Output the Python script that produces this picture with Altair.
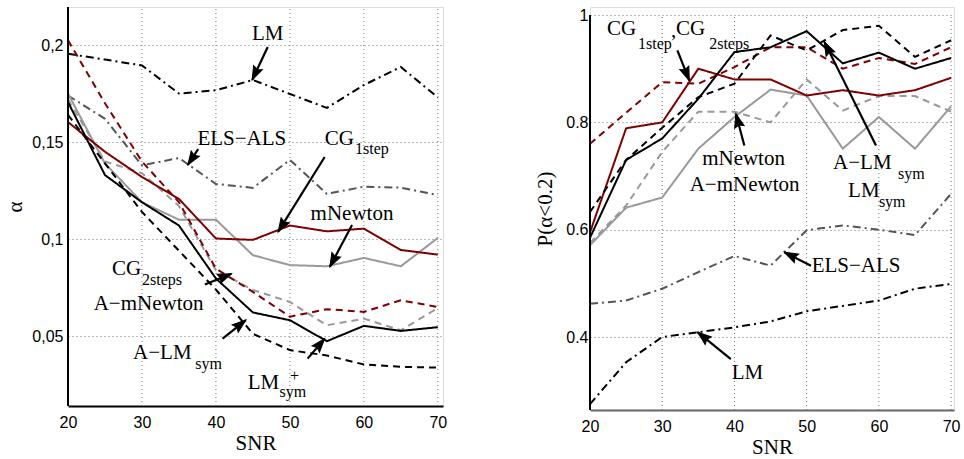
import math
import altair as alt
import pandas as pd

snr = [20, 25, 30, 35, 40, 45, 50, 55, 60, 65, 70]
series_names = ["LM", "ELS-ALS", "mNewton", "A-mNewton", "CG2steps", "CG1step", "A-LMsym", "LMsym"]
series_colors = ["#000000", "#555555", "#999999", "#999999", "#7f0000", "#7f0000", "#000000", "#000000"]
series_dashes = [[8, 4, 2, 4], [8, 4, 2, 4], [1, 0], [7, 5], [7, 5], [1, 0], [7, 5], [1, 0]]

# Left panel: alpha vs SNR
a_LM = [0.1955, 0.1925, 0.1895, 0.1750, 0.1767, 0.1820, 0.1748, 0.1676, 0.1794, 0.1887, 0.1730]
a_ELS = [0.174, 0.162, 0.138, 0.1418, 0.1284, 0.1264, 0.1408, 0.1233, 0.127, 0.1265, 0.1227]
a_mN = [0.175, 0.139, 0.119, 0.110, 0.110, 0.0917, 0.0866, 0.086, 0.0903, 0.086, 0.1006]
a_AmN = [0.172, 0.140, 0.134, 0.117, 0.084, 0.0738, 0.0676, 0.0556, 0.059, 0.053, 0.0645]
a_CG2 = [0.2025, 0.170, 0.140, 0.119, 0.0848, 0.0728, 0.060, 0.0639, 0.0625, 0.0685, 0.065]
a_CG1 = [0.1603, 0.145, 0.132, 0.1207, 0.1003, 0.0996, 0.107, 0.104, 0.1054, 0.0944, 0.092]
a_ALM = [0.164, 0.139, 0.114, 0.094, 0.074, 0.0512, 0.0428, 0.040, 0.0354, 0.0342, 0.0338]
a_LMs = [0.1706, 0.133, 0.119, 0.107, 0.0797, 0.0622, 0.0582, 0.0474, 0.0553, 0.0527, 0.0546]

# Right panel: P(alpha<0.2) vs SNR
p_LM = [0.275, 0.353, 0.400, 0.409, 0.418, 0.429, 0.448, 0.458, 0.468, 0.490, 0.499]
p_ELS = [0.462, 0.468, 0.490, 0.521, 0.551, 0.533, 0.599, 0.608, 0.600, 0.590, 0.667]
p_mN = [0.571, 0.641, 0.660, 0.751, 0.810, 0.861, 0.850, 0.751, 0.810, 0.751, 0.830]
p_AmN = [0.575, 0.645, 0.745, 0.820, 0.820, 0.800, 0.880, 0.822, 0.849, 0.849, 0.820]
p_CG2 = [0.760, 0.818, 0.875, 0.872, 0.903, 0.940, 0.940, 0.900, 0.920, 0.909, 0.940]
p_CG1 = [0.595, 0.789, 0.800, 0.900, 0.880, 0.880, 0.850, 0.860, 0.850, 0.860, 0.883]
p_ALM = [0.633, 0.730, 0.790, 0.847, 0.872, 0.962, 0.934, 0.972, 0.980, 0.922, 0.953]
p_LMs = [0.585, 0.730, 0.770, 0.844, 0.931, 0.940, 0.970, 0.910, 0.930, 0.900, 0.920]

# Annotations (data coordinates)
L_main_center = [("LM", 47.0, 0.2026), ("ELS−ALS", 43.5, 0.1485), ("mNewton", 58.4, 0.1099), ("A−mNewton", 30.9, 0.0635)]
L_main_left = [("CG", 54.7, 0.1485), ("CG", 25.95, 0.0815), ("A−LM", 28.8, 0.0384), ("LM", 44.3, 0.023)]
L_sub_left = [("1step", 58.8, 0.1439), ("2steps", 30.0, 0.0764), ("sym", 37.2, 0.0333), ("sym", 48.6, 0.0187), ("+", 50.0, 0.0268)]
L_arrows = [(47.0, 0.199, 44.9, 0.182), (37.6, 0.1464, 36.2, 0.1382), (54.7, 0.1423, 48.4, 0.1037),
            (58.4, 0.1073, 55.4, 0.0857), (38.5, 0.0766, 42.1, 0.0822), (40.9, 0.0487, 44.05, 0.0583),
            (52.4, 0.0384, 54.7, 0.0487)]

R_main_center = [("mNewton", 41.26, 0.72), ("A−mNewton", 41.4, 0.673), ("ELS−ALS", 56.84, 0.521), ("LM", 41.8, 0.322)]
R_main_left = [("CG", 22.35, 0.962), (",", 31.2, 0.959), ("CG", 31.9, 0.962), ("A−LM", 53.66, 0.7136), ("LM", 55.73, 0.661)]
R_sub_left = [("1step", 26.65, 0.937), ("2steps", 36.5, 0.937), ("sym", 62.66, 0.695), ("sym", 60.0, 0.642)]
R_arrows = [(32.1, 0.934, 33.75, 0.878), (41.37, 0.757, 40.2, 0.816), (59.6, 0.757, 52.45, 0.95),
            (50.6, 0.533, 46.9, 0.558), (39.5, 0.359, 34.9, 0.409)]

x_ticks = [20, 30, 40, 50, 60, 70]

HEAD = "M0,0 L-0.5,1.4 L0,1.2 L0.5,1.4 Z"
SERIF = "Liberation Serif, Times New Roman, serif"
SANS = "Liberation Sans, Arial, Helvetica, sans-serif"
GRID = "#777777"


def panel(values, xdom, ydom, axis_top, yticks, label_expr, ytitle, w, h, main_c, main_l, sub_l, arrows,
          ytitle_pad, ylabel_pad, xdomain_color):
    rows = []
    for name, vals in zip(series_names, values):
        for x, v in zip(snr, vals):
            rows.append({"snr": x, "v": v, "series": name})
    df = pd.DataFrame(rows)

    xscale = alt.Scale(domain=xdom, nice=False, zero=False)
    yscale = alt.Scale(domain=ydom, nice=False, zero=False)
    xaxis = alt.Axis(values=x_ticks, title="SNR", grid=False, ticks=False,
                     domainColor=xdomain_color, domainWidth=2,
                     labelFont=SANS, labelFontSize=16, labelColor="#000", labelPadding=8,
                     labelFlush=False, labelOverlap=False,
                     titleFont=SERIF, titleFontSize=21, titleFontWeight="normal", titleColor="#000",
                     titlePadding=2)
    yaxis = alt.Axis(values=yticks, labelExpr=label_expr, title=ytitle, grid=True, gridDash=[1, 3],
                     gridColor=GRID, gridWidth=1, ticks=False, domain=False,
                     labelFont=SANS, labelFontSize=16, labelColor="#000", labelPadding=ylabel_pad,
                     labelFlush=False, labelOverlap=False,
                     titleFont=SERIF, titleFontSize=21, titleFontWeight="normal", titleColor="#000",
                     titlePadding=ytitle_pad)

    gdf = pd.DataFrame({"gx": x_ticks[1:], "gy": [ydom[0]] * (len(x_ticks) - 1),
                        "gy2": [axis_top] * (len(x_ticks) - 1)})
    vgrid = alt.Chart(gdf).mark_rule(color=GRID, strokeWidth=1, strokeDash=[1, 3]).encode(
        x=alt.X("gx:Q", scale=xscale, axis=xaxis), y=alt.Y("gy:Q", scale=yscale, axis=yaxis), y2="gy2:Q")
    adf0 = pd.DataFrame({"ax": [xdom[0]], "ay": [ydom[0]], "ay2": [axis_top]})
    yline = alt.Chart(adf0).mark_rule(color="#000000", strokeWidth=2).encode(
        x=alt.X("ax:Q", scale=xscale), y=alt.Y("ay:Q", scale=yscale), y2="ay2:Q")

    lines = alt.Chart(df).mark_line(strokeWidth=2, clip=True).encode(
        x=alt.X("snr:Q", scale=xscale),
        y=alt.Y("v:Q", scale=yscale),
        color=alt.Color("series:N", scale=alt.Scale(domain=series_names, range=series_colors), legend=None),
        strokeDash=alt.StrokeDash("series:N", scale=alt.Scale(domain=series_names, range=series_dashes), legend=None),
        order=alt.Order("snr:Q"),
    )

    px_per_x = w / (xdom[1] - xdom[0])
    px_per_y = h / (ydom[1] - ydom[0])
    arows = []
    for x1, y1, x2, y2 in arrows:
        sx = (x2 - x1) * px_per_x
        sy = -(y2 - y1) * px_per_y
        ang = (math.degrees(math.atan2(sx, -sy)) + 360) % 360
        arows.append({"x1": x1, "y1": y1, "x2": x2, "y2": y2, "ang": ang})
    adf = pd.DataFrame(arows)
    shafts = alt.Chart(adf).mark_rule(color="black", strokeWidth=2.2).encode(
        x=alt.X("x1:Q", scale=xscale), y=alt.Y("y1:Q", scale=yscale),
        x2="x2:Q", y2="y2:Q")
    heads = alt.Chart(adf).mark_point(shape=HEAD, filled=True, fill="black", stroke="black", size=380,
                                      opacity=1, strokeWidth=1).encode(
        x=alt.X("x2:Q", scale=xscale), y=alt.Y("y2:Q", scale=yscale),
        angle=alt.Angle("ang:Q", scale=None))

    def tlayer(items, size, align):
        tdf = pd.DataFrame([{"t": t, "x": x, "y": y} for t, x, y in items])
        return alt.Chart(tdf).mark_text(font=SERIF, fontSize=size, align=align, baseline="alphabetic",
                                        color="black").encode(
            x=alt.X("x:Q", scale=xscale), y=alt.Y("y:Q", scale=yscale), text="t:N")

    return alt.layer(vgrid, lines, yline, shafts, heads, tlayer(main_c, 21, "center"),
                     tlayer(main_l, 21, "left"), tlayer(sub_l, 16, "left")).properties(width=w, height=h)


left = panel([a_LM, a_ELS, a_mN, a_AmN, a_CG2, a_CG1, a_ALM, a_LMs], [20, 70.7], [0.014, 0.2196], 0.2196,
             [0.05, 0.1, 0.15, 0.2], "replace(toString(datum.value), '.', ',')", "α", 375, 399,
             L_main_center, L_main_left, L_sub_left, L_arrows, 6, 5, "#000000")
right = panel([p_LM, p_ELS, p_mN, p_AmN, p_CG2, p_CG1, p_ALM, p_LMs], [20, 70.4], [0.264, 1.015], 1.0,
              [0.4, 0.6, 0.8, 1.0], "format(datum.value, '~g')", "P(α<0.2)", 364, 403,
              R_main_center, R_main_left, R_sub_left, R_arrows, 10, 2, "#666666")

chart = alt.hconcat(left, right, spacing=86).properties(
    padding={"left": 4, "top": 5, "right": 0, "bottom": 0}
).configure_view(stroke=None).configure(background="white")

chart.save("out.html", embed_options={"renderer": "svg", "actions": False})
